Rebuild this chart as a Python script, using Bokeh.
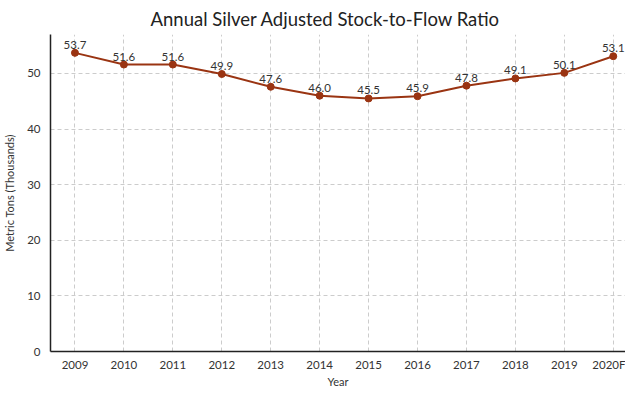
from bokeh.plotting import figure
from bokeh.models import Range1d, ColumnDataSource, LabelSet, FixedTicker
from bokeh.core.properties import value
from bokeh.embed import file_html
from bokeh.resources import INLINE

years = ["2009", "2010", "2011", "2012", "2013", "2014", "2015", "2016", "2017", "2018", "2019", "2020F"]
ratio = [53.7, 51.6, 51.6, 49.9, 47.6, 46.0, 45.5, 45.9, 47.8, 49.1, 50.1, 53.1]
y_ticks = [0, 10, 20, 30, 40, 50]

idx = list(range(len(years)))
src = ColumnDataSource(dict(x=idx, y=ratio, lab=[f"{v:.1f}" for v in ratio]))

FONT = "Lato"
COL = "#9a3412"

p = figure(width=625, height=390, output_backend="svg", toolbar_location=None,
           x_range=Range1d(-0.5, 11.25), y_range=Range1d(0, 57),
           min_border_left=0, min_border_right=0, min_border_top=8, min_border_bottom=0)
p.title.text = "Annual Silver Adjusted Stock-to-Flow Ratio"
p.title.align = "left"
p.title.offset = 100
p.title.text_font = FONT
p.title.text_font_size = "18.5px"
p.title.text_font_style = "normal"
p.title.text_color = "#222222"

p.line("x", "y", source=src, line_color=COL, line_width=2)
p.scatter("x", "y", source=src, size=7, fill_color=COL, line_color=COL)
labels = LabelSet(x="x", y="y", text="lab", source=src, text_align="center",
                  text_baseline="bottom", y_offset=4, text_font=value(FONT),
                  text_font_size=value("11.5px"), text_color=value("#333333"))
p.add_layout(labels)

p.xaxis.ticker = FixedTicker(ticks=idx)
p.xaxis.major_label_overrides = {i: y for i, y in enumerate(years)}
p.yaxis.ticker = FixedTicker(ticks=y_ticks)
p.xaxis.axis_label = "Year"
p.yaxis.axis_label = "Metric Tons (Thousands)"
for ax in (p.xaxis, p.yaxis):
    ax.axis_label_text_font = FONT
    ax.axis_label_text_font_size = "11px"
    ax.axis_label_text_font_style = "normal"
    ax.axis_label_text_color = "#333333"
    ax.major_label_text_font = FONT
    ax.major_label_text_font_size = "11.5px"
    ax.major_label_text_color = "#333333"
    ax.major_tick_line_color = None
    ax.minor_tick_line_color = None
    ax.major_tick_out = 0
    ax.major_tick_in = 0
    ax.minor_tick_out = 0
    ax.minor_tick_in = 0
    ax.axis_line_color = "#222222"
    ax.axis_line_width = 1.5
p.xaxis.major_label_standoff = 6
p.yaxis.major_label_standoff = 10
p.xaxis.axis_label_standoff = 1
p.yaxis.axis_label_standoff = 8

p.xgrid.grid_line_dash = "4 3"
p.ygrid.grid_line_dash = "4 3"
p.xgrid.grid_line_color = "#cccccc"
p.ygrid.grid_line_color = "#cccccc"
p.outline_line_color = None

open("out.html", "w").write(file_html(p, INLINE))
